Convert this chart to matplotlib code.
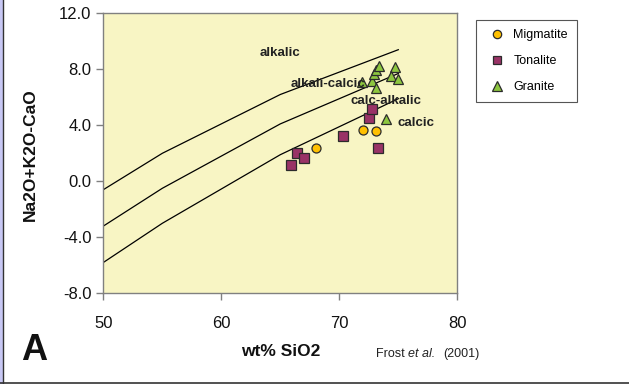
import matplotlib
matplotlib.use("Agg")
import matplotlib.pyplot as plt
from matplotlib.patches import Rectangle
from matplotlib.lines import Line2D

plt.rcParams['font.family'] = ['Liberation Sans', 'DejaVu Sans']

# Boundary lines (Frost et al. 2001)
bound_x = [50, 55, 65, 75]
alkalic_line = [-0.6, 2.0, 6.2, 9.4]
alkcalcic_line = [-3.2, -0.5, 4.1, 7.7]
calcalk_line = [-5.8, -3.0, 1.9, 5.9]

# Samples
mig_x = [68.0, 72.0, 73.1]
mig_y = [2.4, 3.65, 3.6]

ton_x = [65.9, 66.4, 67.0, 70.3, 72.5, 72.8, 73.3]
ton_y = [1.2, 2.05, 1.7, 3.25, 4.55, 5.2, 2.4]

gra_x = [71.95, 72.8, 73.1, 72.95, 73.15, 73.4, 74.7, 74.4, 75.0, 74.0]
gra_y = [7.1, 7.15, 6.7, 7.7, 7.95, 8.25, 8.15, 7.5, 7.3, 4.45]

x_ticks = [50, 60, 70, 80]
y_ticks = [-8.0, -4.0, 0.0, 4.0, 8.0, 12.0]

W, H = 629, 384
fig = plt.figure(figsize=(W / 100, H / 100), dpi=100)
ax = fig.add_axes([103.3 / W, 1 - 293.3 / H, 354 / W, 280 / H])
ax.set_facecolor('#F8F5C4')

for yy in (alkalic_line, alkcalcic_line, calcalk_line):
    ax.plot(bound_x, yy, color='black', lw=0.9, zorder=2)

edge = '#2b2b2b'
ax.plot(mig_x, mig_y, 'o', ms=6.5, mfc='#FFC000', mec=edge, mew=0.9, ls='none', zorder=3)
ax.plot(ton_x, ton_y, 's', ms=6.5, mfc='#993366', mec=edge, mew=0.9, ls='none', zorder=3)
ax.plot(gra_x, gra_y, '^', ms=7, mfc='#8DC63F', mec=edge, mew=0.9, ls='none', zorder=3)

lab_kw = dict(fontsize=9.5, fontweight='bold', color='#222222', ha='center', va='center', zorder=4)
ax.text(64.97, 9.16, 'alkalic', **lab_kw)
ax.text(69.04, 6.95, 'alkali-calcic', **lab_kw)
ax.text(73.96, 5.76, 'calc-alkalic', **lab_kw)
ax.text(76.5, 4.16, 'calcic', **lab_kw)

ax.set_xlim(50, 80)
ax.set_ylim(-8, 12)
ax.set_xticks(x_ticks)
ax.set_yticks(y_ticks)
ax.set_yticklabels([f'{v:.1f}' for v in y_ticks])
for s in ax.spines.values():
    s.set_color('#808080')
    s.set_linewidth(1.0)
ax.tick_params(axis='both', direction='out', length=5, width=1, color='#808080',
               labelsize=12, labelcolor='#111111')
ax.tick_params(axis='x', pad=11)

fig.text(30 / W, 1 - 155 / H, 'Na2O+K2O-CaO', rotation=90, fontsize=12.5, fontweight='bold',
         ha='center', va='center', color='#111111')
fig.text(281 / W, 1 - 351 / H, 'wt% SiO2', fontsize=12.5, fontweight='bold',
         ha='center', va='center', color='#111111')
fig.text(34 / W, 1 - 350 / H, 'A', fontsize=26, fontweight='heavy',
         ha='center', va='center', color='#111111')

# citation
fig.text(376 / W, 1 - 354 / H, 'Frost', fontsize=9, ha='left', va='center', color='#222222')
fig.text(408 / W, 1 - 354 / H, 'et al.', fontsize=9, style='italic', ha='left', va='center', color='#222222')
fig.text(443 / W, 1 - 354 / H, '(2001)', fontsize=9, ha='left', va='center', color='#222222')

handles = [
    Line2D([], [], marker='o', ls='none', ms=6, mfc='#FFC000', mec=edge, mew=0.9),
    Line2D([], [], marker='s', ls='none', ms=6, mfc='#993366', mec=edge, mew=0.9),
    Line2D([], [], marker='^', ls='none', ms=6.5, mfc='#8DC63F', mec=edge, mew=0.9),
]
leg = fig.legend(handles, ['Migmatite', 'Tonalite', 'Granite'], loc='upper left',
                 bbox_to_anchor=(476 / W, 1 - 20 / H), borderaxespad=0, fontsize=9,
                 fancybox=False, framealpha=1, edgecolor='#555555', labelspacing=1.1,
                 handletextpad=0.35, handlelength=1.9, borderpad=0.75)
leg.get_frame().set_linewidth(0.8)

# outer frame bits of the cropped image
fig.add_artist(Rectangle((0, 0), 3 / W, 1, transform=fig.transFigure, color='#C8C8F4', lw=0))
fig.add_artist(Line2D([3.5 / W, 3.5 / W], [0, 1], transform=fig.transFigure, color='#333333', lw=1))
fig.add_artist(Line2D([0, 1], [1.5 / H, 1.5 / H], transform=fig.transFigure, color='#333333', lw=1.2))

fig.savefig('out.png', dpi=100)
